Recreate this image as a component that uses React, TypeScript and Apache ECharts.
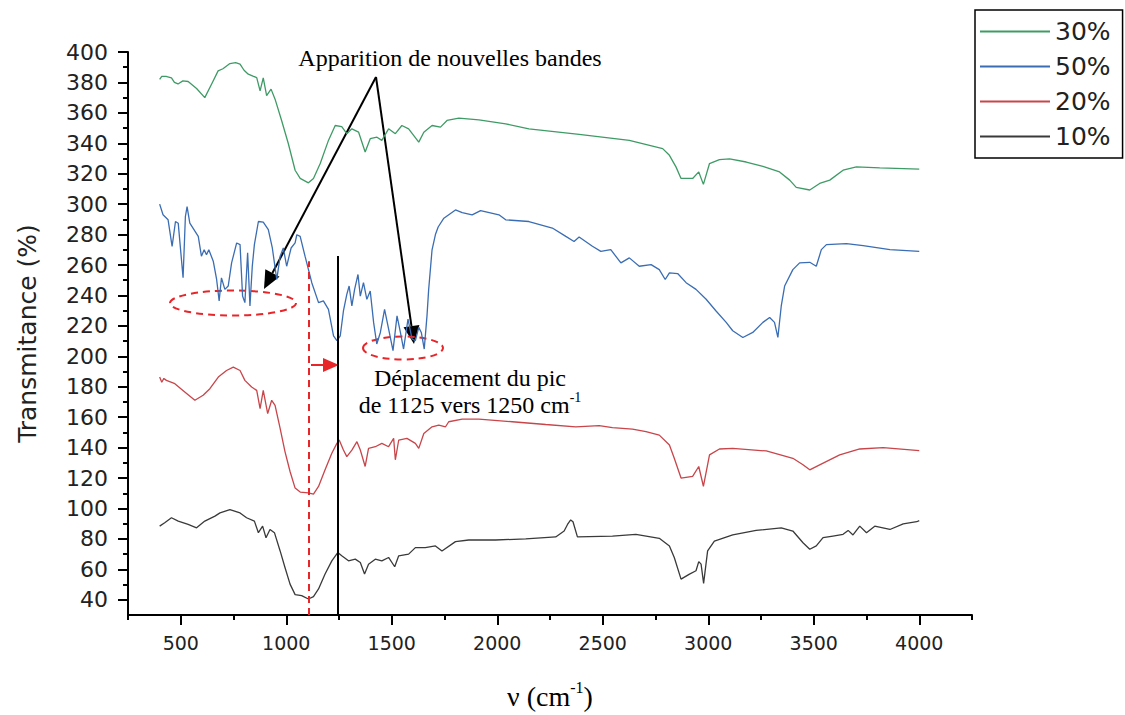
import React, { useEffect, useRef } from "react";
import * as echarts from "echarts";

// ---- data (wavenumber cm-1, transmittance %) ----
const green30: number[][] = [
  [400, 382], [410, 384], [430, 384], [456, 383], [470, 380], [487, 379], [510, 381], [535, 380.6], [575, 376], [614, 370], [650, 380], [677, 387.6],
  [700, 389], [733, 392.4], [760, 393], [781, 392], [800, 388], [820, 385.4], [845, 384], [860, 383.2], [876, 374.5], [891, 383], [907, 371.3], [928, 375.6],
  [947, 369], [978, 355], [1010, 339.7], [1042, 322.3], [1066, 316.9], [1105, 314], [1129, 316.9], [1161, 326.7],
  [1200, 341.9], [1232, 351.7], [1263, 351], [1287, 346.3], [1311, 349.5], [1343, 347.3], [1374, 334.3], [1398, 343],
  [1430, 344], [1453, 341.9], [1485, 349.5], [1517, 346.3], [1548, 351.7], [1580, 349.5], [1628, 340.8], [1652, 347.3],
  [1691, 351.7], [1731, 350.6], [1762, 355], [1818, 356.5], [1913, 355.4], [2040, 352.8], [2150, 349.5], [2388, 345.8],
  [2626, 341.9], [2784, 336.5], [2816, 332.1], [2847, 324.5], [2871, 316.9], [2926, 316.9], [2955, 321.2], [2977, 313],
  [3006, 326.7], [3053, 329.3], [3101, 329.7], [3180, 327.7], [3259, 324.9], [3338, 321.2], [3386, 315.8], [3417, 311],
  [3481, 309.3], [3528, 313.6], [3576, 315.8], [3639, 322.3], [3702, 324.5], [3813, 323.9], [4000, 323],
];

const blue50: number[][] = [
  [400, 300], [416, 293], [440, 289.7], [459, 272.3], [475, 288.6], [488, 287.5], [511, 251.6], [522, 291.9], [530, 298.4],
  [543, 287.5], [583, 278.8], [598, 265.8], [611, 270.1], [622, 266.8], [633, 270.1], [654, 262.5], [670, 250.5],
  [682, 236.4], [693, 251.6], [709, 244], [725, 246.2], [741, 261.4], [765, 274.5], [781, 273.4], [793, 239.6],
  [804, 235.3], [817, 268], [828, 233.1], [839, 259.2], [849, 273.4], [868, 288.6], [891, 288.2], [915, 283.2],
  [934, 271.2], [955, 250.5], [971, 265.7], [986, 271.2], [1002, 259.2], [1023, 271.2], [1042, 274.5], [1050, 279.9],
  [1066, 278.8], [1089, 265.8], [1121, 248.4], [1153, 235.3], [1176, 236.4], [1200, 230.9], [1224, 213.5], [1240, 210.3],
  [1256, 213.5], [1271, 229.8], [1287, 240.7], [1298, 246.2], [1311, 233.1], [1324, 244], [1340, 253.8], [1351, 239.6],
  [1366, 248.4], [1382, 237.5], [1398, 242.9], [1414, 222.3], [1429, 208.1], [1446, 215.7], [1466, 230.9], [1485, 218.1],
  [1506, 203.7], [1525, 226.6], [1541, 215.7], [1556, 204.8], [1577, 224.4], [1596, 211.4], [1612, 210.3], [1628, 219],
  [1640, 215.7], [1654, 204.8], [1667, 226.6], [1675, 244], [1691, 270], [1707, 280], [1720, 285], [1747, 290.8],
  [1802, 296.2], [1834, 294.5], [1881, 293], [1921, 295.8], [2008, 293], [2040, 289.7], [2150, 288.6], [2261, 284.3],
  [2325, 278.8], [2364, 275.5], [2388, 278.4], [2451, 272.3], [2491, 269], [2538, 270.1], [2586, 261.4], [2626, 264.7],
  [2673, 259.2], [2729, 260.3], [2768, 257], [2796, 250.5], [2816, 254.9], [2855, 254.4], [2895, 248.4], [2942, 244],
  [2990, 237.5], [3037, 229.8], [3085, 222.3], [3116, 216.8], [3164, 212.4], [3211, 215.7], [3259, 222.3], [3291, 225.5],
  [3314, 222.3], [3330, 212.4], [3346, 233.1], [3362, 246.2], [3401, 257], [3433, 261.4], [3481, 261.8], [3512, 259.2],
  [3536, 270.1], [3560, 273.4], [3655, 274], [3734, 272.7], [3861, 270.1], [4000, 269],
];

const red20: number[][] = [
  [400, 186.4], [410, 183], [420, 185.5], [432, 184.2], [472, 182], [519, 176.6], [567, 171.1], [606, 174.4], [638, 178.7],
  [678, 186.4], [717, 190.7], [749, 192.9], [781, 190.7], [804, 184.2], [836, 179.8], [860, 177.6], [876, 165.7],
  [891, 177.6], [912, 162.4], [931, 171.1], [947, 167.8], [971, 152.6], [994, 137.4], [1018, 124.3], [1042, 113.4],
  [1066, 110.8], [1105, 110.2], [1129, 109.5], [1153, 114.5], [1184, 125.4], [1216, 136.3], [1240, 142.8], [1251, 145],
  [1271, 138.4], [1287, 134.1], [1311, 138.4], [1335, 143.9], [1351, 138.4], [1374, 127.6], [1390, 139.5], [1422, 140.6],
  [1453, 142.8], [1485, 140.6], [1509, 146.1], [1517, 132], [1533, 145], [1572, 146.1], [1612, 142.8], [1628, 139.5],
  [1652, 149.3], [1691, 153.7], [1723, 154.8], [1755, 153.7], [1770, 157], [1834, 158.7], [1913, 158.7], [2071, 157],
  [2230, 155.2], [2372, 153.7], [2483, 154.4], [2546, 153.1], [2641, 152.2], [2705, 150.5], [2768, 148.2], [2816, 141.7],
  [2839, 133], [2871, 120], [2926, 121.1], [2955, 127.6], [2977, 114.6], [3006, 135.2], [3053, 139.1], [3116, 139.5],
  [3275, 137.8], [3401, 133], [3449, 128.7], [3481, 125.4], [3528, 128.7], [3623, 135.2], [3718, 139.1], [3829, 140],
  [4000, 138],
];

const black10: number[][] = [
  [400, 88.4], [424, 90.6], [456, 93.9], [488, 91.7], [535, 89.5], [575, 87.3], [614, 91.7], [662, 95], [686, 97.1],
  [733, 99.3], [781, 97.1], [812, 93.9], [849, 91.7], [868, 84.1], [888, 88.4], [904, 80.8], [923, 86.2], [944, 84.1],
  [971, 72.1], [994, 61.2], [1018, 50.3], [1042, 43.4], [1073, 42.7], [1105, 40.5], [1129, 42.1], [1153, 47.1],
  [1184, 56.9], [1216, 65.6], [1244, 71], [1263, 68.9], [1295, 65.6], [1327, 66.7], [1351, 64.5], [1371, 56.9],
  [1390, 63.4], [1422, 66.7], [1453, 65.6], [1485, 67.8], [1514, 61.7], [1533, 68.9], [1580, 70], [1612, 74.3],
  [1659, 74.3], [1707, 75.4], [1738, 72.1], [1802, 78.2], [1865, 79.3], [1992, 79.3], [2135, 80], [2277, 81.3],
  [2317, 85.2], [2333, 89.5], [2348, 92.5], [2359, 91.3], [2380, 81.3], [2546, 81.9], [2657, 83], [2768, 80.4],
  [2816, 75.4], [2839, 67.8], [2871, 53.6], [2911, 56.9], [2942, 59.1], [2955, 65.1], [2966, 63.4], [2978, 50.8],
  [2997, 72.1], [3029, 78.6], [3116, 82.6], [3227, 85.6], [3346, 87.3], [3401, 85.2], [3449, 77.5], [3481, 73.2],
  [3512, 75.4], [3544, 80.8], [3591, 81.9], [3639, 83], [3663, 85.6], [3686, 82.6], [3718, 88.4], [3750, 84.1],
  [3789, 88.4], [3861, 86.2], [3924, 89.9], [3988, 91.3], [4000, 92],
];

const legendOrder = ["30%", "50%", "20%", "10%"];
const xMajorTicks = [500, 1000, 1500, 2000, 2500, 3000, 3500, 4000];
const xMinorTicks = [250, 750, 1250, 1750, 2250, 2750, 3250, 3750, 4250];
const yMajorTicks = [40, 60, 80, 100, 120, 140, 160, 180, 200, 220, 240, 260, 280, 300, 320, 340, 360, 380, 400];
const yMinorTicks = [50, 70, 90, 110, 130, 150, 170, 190, 210, 230, 250, 270, 290, 310, 330, 350, 370, 390];
// peak shift markers (cm-1)
const peakOld = 1105;
const peakNew = 1244;

const SANS = '"DejaVu Sans", "Liberation Sans", Arial, sans-serif';
const SERIF = '"Liberation Serif", "Times New Roman", serif';

function arrowHead(x1: number, y1: number, x2: number, y2: number, len: number, half: number) {
  const dx = x2 - x1, dy = y2 - y1;
  const L = Math.hypot(dx, dy);
  const ux = dx / L, uy = dy / L;
  const bx = x2 - ux * len, by = y2 - uy * len;
  return {
    base: [bx, by],
    pts: [[x2, y2], [bx - uy * half, by + ux * half], [bx + uy * half, by - ux * half]],
  };
}

export default function App() {
  const ref = useRef<HTMLDivElement>(null);
  useEffect(() => {
    if (!ref.current) return;
    const chart = echarts.init(ref.current, undefined, { renderer: "svg" });

    const apex = [376, 77];
    const a1 = arrowHead(apex[0], apex[1], 264, 289, 18, 8);
    const a2 = arrowHead(apex[0], apex[1], 414, 344, 18, 8);

    const mkLine = (name: string, data: number[][], color: string, extra: any = {}) => ({
      name,
      type: "line",
      data,
      showSymbol: false,
      symbol: "none",
      lineStyle: { color, width: 1.3 },
      itemStyle: { color },
      ...extra,
    });

    chart.setOption({
      animation: false,
      backgroundColor: "#ffffff",
      grid: { left: 128, right: 153, top: 52, bottom: 97 },
      legend: {
        data: legendOrder,
        orient: "vertical",
        left: 975,
        top: 10,
        icon: "rect",
        itemWidth: 70,
        itemHeight: 2,
        itemGap: 10,
        padding: [9, 12, 9, 5],
        borderColor: "#000",
        borderWidth: 1.5,
        textStyle: { fontFamily: SANS, fontSize: 25, color: "#222" },
      },
      xAxis: [
        {
          type: "value",
          min: 250,
          max: 4250,
          position: "bottom",
          name: "{a|ν (cm}{s|-1}{a|)}",
          nameLocation: "middle",
          nameGap: 64,
          nameTextStyle: {
            rich: {
              a: { fontFamily: SERIF, fontSize: 28, color: "#000", lineHeight: 34 },
              s: { fontFamily: SERIF, fontSize: 16, color: "#000", verticalAlign: "top", lineHeight: 34 },
            },
          },
          splitLine: { show: false },
          axisLine: { show: true, onZero: false, lineStyle: { color: "#000", width: 2 } },
          axisTick: { show: true, customValues: xMajorTicks, length: 10, lineStyle: { color: "#000", width: 2 } },
          axisLabel: {
            customValues: xMajorTicks,
            formatter: (v: number) => String(v),
            fontFamily: SANS, fontSize: 19, color: "#222", margin: 18,
          },
        },
        {
          type: "value",
          min: 250,
          max: 4250,
          position: "bottom",
          splitLine: { show: false },
          axisLine: { show: false },
          axisTick: { show: true, customValues: xMinorTicks, length: 5, lineStyle: { color: "#000", width: 2 } },
          axisLabel: { show: false },
        },
      ],
      yAxis: [
        {
          type: "value",
          min: 30,
          max: 400,
          position: "left",
          name: "Transmitance (%)",
          nameLocation: "middle",
          nameGap: 88,
          nameTextStyle: { fontFamily: SANS, fontSize: 25, color: "#222" },
          splitLine: { show: false },
          axisLine: { show: true, onZero: false, lineStyle: { color: "#000", width: 2 } },
          axisTick: { show: true, customValues: yMajorTicks, length: 10, lineStyle: { color: "#000", width: 2 } },
          axisLabel: {
            customValues: yMajorTicks,
            formatter: (v: number) => String(v),
            fontFamily: SANS, fontSize: 22, color: "#222", margin: 20,
          },
        },
        {
          type: "value",
          min: 30,
          max: 400,
          position: "left",
          splitLine: { show: false },
          axisLine: { show: false },
          axisTick: { show: true, customValues: yMinorTicks, length: 5, lineStyle: { color: "#000", width: 2 } },
          axisLabel: { show: false },
        },
      ],
      series: [
        mkLine("10%", black10, "#3a3a3a", {
          markLine: {
            silent: true,
            symbol: ["none", "none"],
            label: { show: false },
            data: [
              [
                { coord: [peakOld, 30], lineStyle: { color: "#e8262a", type: [7, 5], width: 2 } },
                { coord: [peakOld, 262.5] },
              ],
              [
                { coord: [peakNew, 30], lineStyle: { color: "#000", type: "solid", width: 2 } },
                { coord: [peakNew, 266] },
              ],
            ],
          },
        }),
        mkLine("20%", red20, "#c8454a"),
        mkLine("30%", green30, "#3f9b66"),
        mkLine("50%", blue50, "#3a6db3"),
      ],
      graphic: [
        {
          type: "text",
          style: {
            text: "Apparition de nouvelles bandes",
            x: 450, y: 58, align: "center", verticalAlign: "middle",
            textAlign: "center", textVerticalAlign: "middle",
            fontFamily: SERIF, fontSize: 24, fill: "#000",
          },
        },
        { type: "line", shape: { x1: apex[0], y1: apex[1], x2: a1.base[0], y2: a1.base[1] }, style: { stroke: "#000", lineWidth: 2 } },
        { type: "polygon", shape: { points: a1.pts }, style: { fill: "#000" } },
        { type: "line", shape: { x1: apex[0], y1: apex[1], x2: a2.base[0], y2: a2.base[1] }, style: { stroke: "#000", lineWidth: 2 } },
        { type: "polygon", shape: { points: a2.pts }, style: { fill: "#000" } },
        {
          type: "ellipse",
          shape: { cx: 233, cy: 303, rx: 63, ry: 12.5 },
          style: { fill: "none", stroke: "#e8262a", lineWidth: 2, lineDash: [7, 5] },
        },
        {
          type: "ellipse",
          shape: { cx: 403, cy: 348, rx: 40, ry: 11.5 },
          style: { fill: "none", stroke: "#e8262a", lineWidth: 2, lineDash: [7, 5] },
        },
        { type: "line", shape: { x1: 311, y1: 365, x2: 325, y2: 365 }, style: { stroke: "#e8262a", lineWidth: 2 } },
        { type: "polygon", shape: { points: [[323, 358], [339, 365], [323, 372]] }, style: { fill: "#e8262a" } },
        {
          type: "text",
          style: {
            text: "Déplacement du pic",
            x: 470, y: 378, align: "center", verticalAlign: "middle",
            textAlign: "center", textVerticalAlign: "middle",
            fontFamily: SERIF, fontSize: 24, fill: "#000",
          },
        },
        {
          type: "text",
          style: {
            text: "{a|de 1125 vers 1250 cm}{s|-1}",
            x: 470, y: 405, align: "center", verticalAlign: "middle",
            textAlign: "center", textVerticalAlign: "middle",
            rich: {
              a: { fontFamily: SERIF, fontSize: 24, fill: "#000", color: "#000", lineHeight: 30 },
              s: { fontFamily: SERIF, fontSize: 14, fill: "#000", color: "#000", verticalAlign: "top", lineHeight: 30 },
            },
          },
        },
      ],
    });
    return () => chart.dispose();
  }, []);
  return (
    <div
      ref={ref}
      style={{ position: "fixed", left: 0, top: 0, width: 1125, height: 715, background: "#fff" }}
    />
  );
}
